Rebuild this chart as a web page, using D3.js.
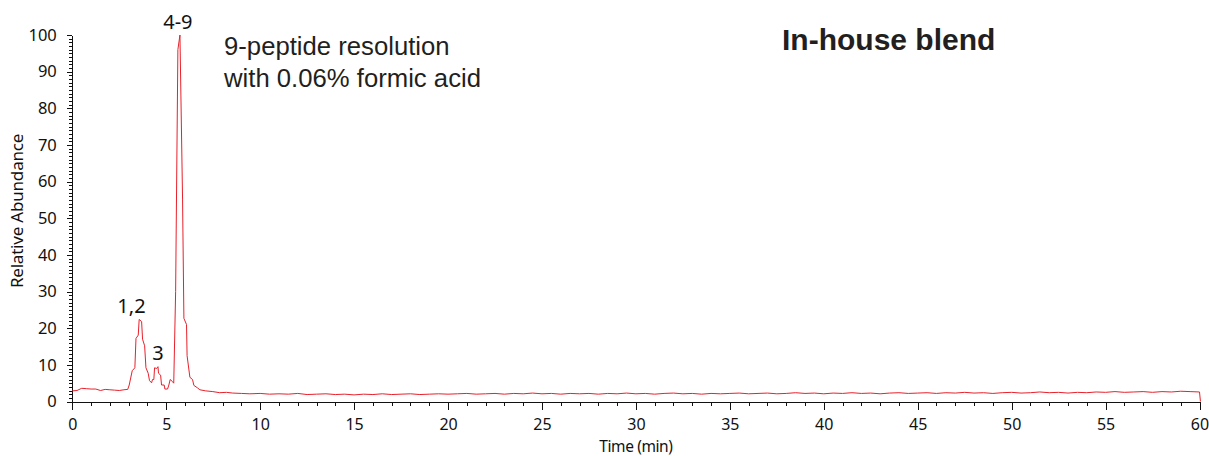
<!DOCTYPE html>
<html>
<head>
<meta charset="utf-8">
<script src="https://cdn.jsdelivr.net/npm/d3@7"></script>
<style>
  body { margin: 0; background: #fff; }
  .axis text { font-family: "Noto Sans", sans-serif; font-size: 16px; fill: #111; }
  .axis path, .axis line { stroke: #111; stroke-width: 1; shape-rendering: crispEdges; }
</style>
</head>
<body>
<div id="chart"></div>
<script>
// chromatogram
var peakTimes = [0, 0.25, 0.5, 0.75, 1.0, 1.25, 1.5, 1.75, 2.0, 2.25, 2.5, 2.75, 2.95,
  3.03, 3.19, 3.33, 3.39, 3.51, 3.56, 3.69, 3.74, 3.85, 3.92, 4.04, 4.11, 4.22, 4.27, 4.34,
  4.38, 4.49, 4.56, 4.59, 4.70, 4.75, 4.89, 4.93, 5.07, 5.14, 5.21, 5.34, 5.40, 5.50, 5.62,
  5.73, 5.87, 5.94, 6.08, 6.11, 6.26, 6.40, 6.47, 6.67, 6.79, 7.1, 7.48, 7.85, 8.2, 8.54, 9.0, 9.45];
var peakValues = [2.9, 3.0, 3.6, 3.5, 3.4, 3.4, 3.0, 3.3, 3.2, 3.1, 3.0, 3.2, 3.3,
  4.5, 8.4, 9.2, 17.2, 18.1, 22.4, 21.8, 17.0, 15.2, 9.2, 7.7, 5.7, 5.1, 6.0, 6.0,
  9.2, 9.0, 9.5, 7.7, 7.2, 4.5, 4.5, 3.4, 3.4, 4.5, 6.0, 5.4, 5.0, 30, 96,
  100, 55, 22.7, 21.0, 12.5, 6.6, 6.0, 4.4, 3.7, 3.2, 2.9, 2.7, 2.4, 2.5, 2.3, 2.2, 2.1];

// baseline from 10 to 60 min, every 0.5 min
var baselineStart = 10, baselineStep = 0.5;
var baselineValues = [
  2.2, 2.0, 2.1, 2.0, 2.2, 1.9, 2.0, 2.1, 1.9, 2.0, 1.8, 2.0, 1.9, 2.1, 1.9, 2.0, 2.1, 1.9, 2.0, 2.1,
  2.0, 2.1, 2.2, 2.0, 2.1, 2.2, 2.0, 2.2, 2.1, 2.3, 2.1, 2.2, 2.0, 2.2, 2.1, 2.2, 2.0, 2.2, 2.1, 2.3,
  2.1, 2.2, 2.0, 2.2, 2.3, 2.1, 2.2, 2.0, 2.2, 2.1, 2.2, 2.3, 2.1, 2.2, 2.3, 2.1, 2.2, 2.4, 2.2, 2.3,
  2.1, 2.3, 2.2, 2.4, 2.2, 2.3, 2.1, 2.3, 2.4, 2.2, 2.3, 2.4, 2.2, 2.4, 2.3, 2.5, 2.3, 2.4, 2.2, 2.4,
  2.5, 2.3, 2.4, 2.6, 2.4, 2.5, 2.3, 2.5, 2.4, 2.6, 2.5, 2.7, 2.5, 2.6, 2.7, 2.5, 2.7, 2.6, 2.8, 2.7,
  2.6];
var endTime = 60.05, endValue = 0;

var peakLabels = [
  { text: "1,2", time: 3.15, value: 22.4 },
  { text: "3", time: 4.56, value: 9.5 },
  { text: "4-9", time: 5.62, value: 100 }
];

var xTicks = [0, 5, 10, 15, 20, 25, 30, 35, 40, 45, 50, 55, 60];
var yTicks = [0, 10, 20, 30, 40, 50, 60, 70, 80, 90, 100];

var trace = peakTimes.map(function(t, i) { return { t: t, v: peakValues[i] }; });
baselineValues.forEach(function(v, i) {
  trace.push({ t: baselineStart + i * baselineStep, v: v });
});
trace.push({ t: endTime, v: endValue });

var width = 1209,
  height = 456,
  margin = { top: 35, right: 9.5, bottom: 54.5, left: 72.3 };

var svg = d3.select("#chart").append("svg")
  .attr("width", width)
  .attr("height", height);

var x = d3.scaleLinear().domain([0, 60]).range([margin.left, width - margin.right]);
var y = d3.scaleLinear().domain([0, 100]).range([height - margin.bottom, margin.top]);

// minor ticks first, majors with labels on top
svg.append("g")
  .attr("class", "axis")
  .attr("transform", "translate(0," + y(0) + ")")
  .call(d3.axisBottom(x).tickValues(d3.range(0, 61, 1)).tickSize(4).tickSizeOuter(0).tickFormat(""));
svg.append("g")
  .attr("class", "axis")
  .attr("transform", "translate(0," + y(0) + ")")
  .call(d3.axisBottom(x).tickValues(xTicks).tickSize(8).tickSizeOuter(0).tickPadding(9).tickFormat(d3.format("d")));

svg.append("g")
  .attr("class", "axis")
  .attr("transform", "translate(" + x(0) + ",0)")
  .call(d3.axisLeft(y).tickValues(d3.range(0, 101, 1)).tickSize(3).tickSizeOuter(0).tickFormat(""));
svg.append("g")
  .attr("class", "axis")
  .attr("transform", "translate(" + x(0) + ",0)")
  .call(d3.axisLeft(y).tickValues(yTicks).tickSize(5.5).tickSizeOuter(0).tickPadding(10).tickFormat(d3.format("d")))
  .selectAll("text").style("font-size", "16.5px");

svg.append("text")
  .attr("x", x(30))
  .attr("y", 452)
  .attr("text-anchor", "middle")
  .style("font-family", "Noto Sans, sans-serif")
  .style("font-size", "15.5px")
  .style("letter-spacing", "-0.4px")
  .style("fill", "#111")
  .text("Time (min)");

svg.append("text")
  .attr("transform", "translate(23,211) rotate(-90)")
  .attr("text-anchor", "middle")
  .style("font-family", "Noto Sans, sans-serif")
  .style("font-size", "17px")
  .style("letter-spacing", "-0.2px")
  .style("fill", "#111")
  .text("Relative Abundance");

var line = d3.line()
  .x(function(d) { return x(d.t); })
  .y(function(d) { return y(d.v); });

svg.append("path")
  .datum(trace)
  .attr("fill", "none")
  .attr("stroke", "#e8212b")
  .attr("stroke-width", 1)
  .attr("d", line);

svg.selectAll(".peak-label")
  .data(peakLabels)
  .enter().append("text")
  .attr("class", "peak-label")
  .attr("x", function(d) { return x(d.time); })
  .attr("y", function(d) { return y(d.value) - 6.5; })
  .attr("text-anchor", "middle")
  .style("font-family", "Noto Sans, sans-serif")
  .style("font-size", "20px")
  .style("fill", "#111")
  .text(function(d) { return d.text; });

svg.append("text")
  .attr("x", 224)
  .attr("y", 55)
  .style("font-family", "Liberation Sans, Arial, sans-serif")
  .style("font-size", "25.7px")
  .style("fill", "#231f20")
  .text("9-peptide resolution");
svg.append("text")
  .attr("x", 224)
  .attr("y", 87)
  .style("font-family", "Liberation Sans, Arial, sans-serif")
  .style("font-size", "25.7px")
  .style("fill", "#231f20")
  .text("with 0.06% formic acid");

svg.append("text")
  .attr("x", 782)
  .attr("y", 50)
  .style("font-family", "Liberation Sans, Arial, sans-serif")
  .style("font-size", "30px")
  .style("font-weight", "bold")
  .style("fill", "#231f20")
  .text("In-house blend");
</script>
</body>
</html>
